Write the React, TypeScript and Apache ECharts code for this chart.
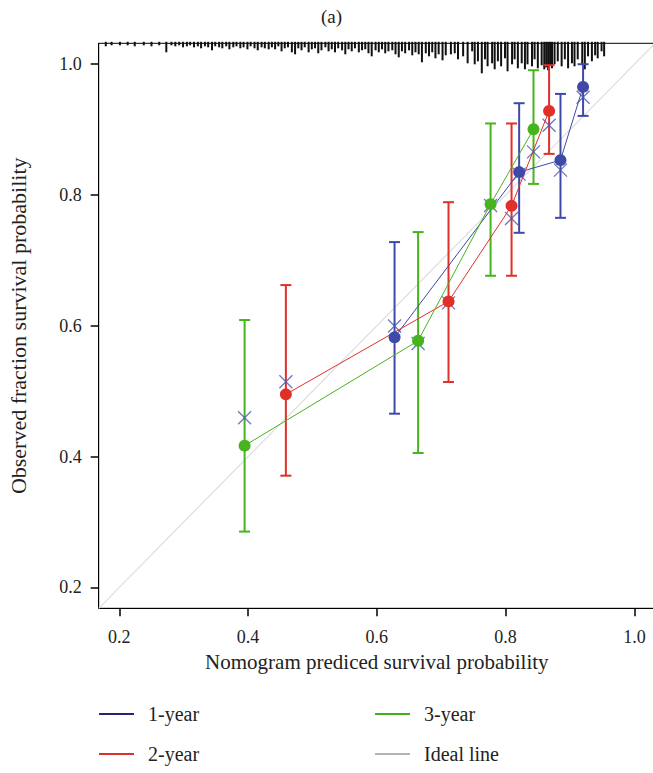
import React, { useEffect, useRef } from "react";
import * as echarts from "echarts";

const FONT = "'Liberation Serif', 'DejaVu Serif', serif";

const xTicks = [0.2, 0.4, 0.6, 0.8, 1.0];
const yTicks = [0.2, 0.4, 0.6, 0.8, 1.0];

// 1-year
const pred1 = [0.6275, 0.821, 0.8852, 0.9203];
const obs1 = [0.5823, 0.835, 0.8533, 0.9653];
const lo1 = [0.4656, 0.7422, 0.7651, 0.921];
const hi1 = [0.728, 0.9404, 0.9546, 1.0];
const corr1 = [0.5996, 0.832, 0.838, 0.9496];

// 2-year
const pred2 = [0.4587, 0.7113, 0.8092, 0.8675];
const obs2 = [0.4952, 0.6373, 0.7834, 0.9286];
const lo2 = [0.3708, 0.514, 0.6765, 0.8629];
const hi2 = [0.6623, 0.789, 0.9094, 0.9985];
const corr2 = [0.5145, 0.635, 0.7642, 0.9068];

// 3-year
const pred3 = [0.3946, 0.6641, 0.7766, 0.8433];
const obs3 = [0.4167, 0.5771, 0.786, 0.9006];
const lo3 = [0.2853, 0.4055, 0.6765, 0.817];
const hi3 = [0.6088, 0.7433, 0.9094, 0.9908];
const corr3 = [0.4595, 0.573, 0.784, 0.866];

// rug (distribution of predicted values) : position and relative frequency
const rugPred = [
  0.179, 0.188, 0.201, 0.213, 0.224, 0.238, 0.25, 0.262, 0.273, 0.281,
  0.287, 0.293, 0.299, 0.305, 0.31, 0.316, 0.322, 0.327, 0.333, 0.338,
  0.344, 0.349, 0.355, 0.36, 0.366, 0.371, 0.377, 0.382, 0.388, 0.393,
  0.399, 0.404, 0.41, 0.415, 0.421, 0.426, 0.432,
  0.437, 0.442, 0.447, 0.452, 0.457, 0.462, 0.468, 0.473, 0.478, 0.483,
  0.488, 0.494, 0.499, 0.504, 0.509, 0.514, 0.52, 0.525, 0.53, 0.535,
  0.54, 0.546, 0.551, 0.556, 0.561, 0.566, 0.572, 0.577, 0.582, 0.587,
  0.592, 0.598, 0.603, 0.608, 0.613, 0.618, 0.624, 0.629, 0.634, 0.639,
  0.644, 0.65, 0.655, 0.66, 0.665, 0.67, 0.676, 0.681, 0.686, 0.691,
  0.696, 0.702, 0.707,
  0.715, 0.721, 0.726, 0.734, 0.741, 0.748, 0.752, 0.757, 0.763, 0.768,
  0.772, 0.779, 0.783, 0.788, 0.793, 0.799, 0.803, 0.81, 0.814, 0.819,
  0.825, 0.83, 0.834, 0.841, 0.845, 0.85, 0.856, 0.86, 0.863, 0.866,
  0.869, 0.872, 0.876, 0.881, 0.887, 0.892, 0.897, 0.903, 0.907, 0.912,
  0.919, 0.923, 0.928, 0.934, 0.939, 0.943, 0.949, 0.953,
];
const rugCount = [
  3, 2, 2, 2, 3, 2, 3, 2, 9, 2,
  3, 2, 4, 3, 2, 4, 3, 5, 3, 4,
  7, 3, 4, 5, 3, 6, 4, 3, 5, 4,
  6, 3, 5, 7, 4, 5, 6,
  4, 6, 3, 8, 5, 4, 9, 11, 5, 7,
  4, 9, 6, 5, 10, 7, 4, 8, 6, 9,
  5, 7, 11, 6, 8, 5, 9, 7, 6, 10,
  13, 7, 9, 6, 10, 8, 7, 11, 14, 8,
  10, 7, 12, 9, 11, 19, 10, 13, 9, 15,
  11, 17, 12,
  11, 10, 16, 13, 20, 8, 21, 18, 30, 16,
  23, 20, 26, 18, 23, 15, 28, 21, 16, 25,
  20, 26, 21, 23, 16, 25, 22, 26, 24, 27,
  22, 25, 21, 18, 23, 16, 25, 20, 23, 16,
  21, 26, 13, 18, 12, 15, 8, 13,
];

const C1 = "#3f4aa8";
const C2 = "#e0302a";
const C3 = "#46b41c";
const CX = "#4a55b2";
const AX_MIN = 0.168;
const AX_MAX = 1.032;

function zip(a: number[], b: number[]) {
  return a.map((v, i) => [v, b[i]]);
}
function zip3(a: number[], b: number[], c: number[]) {
  return a.map((v, i) => [v, b[i], c[i]]);
}

function errBarSeries(name: string, color: string, data: number[][]) {
  return {
    type: "custom",
    name,
    data,
    encode: { x: 0, y: [1, 2] },
    z: 3,
    renderItem: (params: any, api: any) => {
      const x = api.value(0);
      const lo = api.coord([x, api.value(1)]);
      const hi = api.coord([x, api.value(2)]);
      const cap = 5.5;
      const style = { stroke: color, lineWidth: 2 };
      return {
        type: "group",
        children: [
          { type: "line", shape: { x1: lo[0], y1: lo[1], x2: hi[0], y2: hi[1] }, style },
          { type: "line", shape: { x1: lo[0] - cap, y1: lo[1], x2: lo[0] + cap, y2: lo[1] }, style },
          { type: "line", shape: { x1: hi[0] - cap, y1: hi[1], x2: hi[0] + cap, y2: hi[1] }, style },
        ],
      };
    },
  };
}

function lineSeries(name: string, color: string, data: number[][]) {
  return {
    type: "line",
    name,
    data,
    z: 5,
    symbol: "circle",
    symbolSize: 12,
    showSymbol: true,
    itemStyle: { color },
    lineStyle: { color, width: 1 },
  };
}

function crossSeries(name: string, data: number[][]) {
  return {
    type: "scatter",
    name,
    data,
    z: 4,
    symbol: "path://M0,0L10,10M10,0L0,10",
    symbolSize: 13,
    itemStyle: { color: "none", borderColor: CX, borderWidth: 1.3 },
  };
}

export default function App() {
  const ref = useRef<HTMLDivElement>(null);
  useEffect(() => {
    if (!ref.current) return;
    const chart = echarts.init(ref.current, undefined, { renderer: "svg" });
    const axisCommon = {
      type: "value",
      min: AX_MIN,
      max: AX_MAX,
      splitLine: { show: false },
      axisLine: { show: true, lineStyle: { color: "#000", width: 1 } },
      nameLocation: "middle",
    };
    const legendCommon = {
      top: 704,
      orient: "vertical",
      padding: 0,
      itemGap: 20,
      itemWidth: 35,
      itemHeight: 2,
      selectedMode: false,
      textStyle: { fontSize: 20, fontFamily: FONT, color: "#222", padding: [0, 0, 0, 9] },
    };
    chart.setOption({
      animation: false,
      backgroundColor: "#fff",
      title: {
        text: "(a)",
        left: 321,
        top: 7,
        padding: 0,
        textStyle: { fontSize: 19, fontWeight: "normal", fontFamily: FONT, color: "#222" },
      },
      grid: {
        left: 98.7,
        top: 43.3,
        right: -2,
        bottom: 164.7,
        show: true,
        borderColor: "#000",
        borderWidth: 1,
        outerBoundsMode: "none",
      },
      xAxis: {
        ...axisCommon,
        name: "Nomogram prediced survival probability",
        nameGap: 43,
        nameTextStyle: { fontSize: 21, fontFamily: FONT, color: "#222" },
        axisTick: { show: true, customValues: xTicks, length: 8, lineStyle: { color: "#000", width: 1.5 } },
        axisLabel: {
          customValues: xTicks,
          formatter: (v: number) => v.toFixed(1),
          fontSize: 18,
          fontFamily: FONT,
          color: "#222",
          margin: 20,
        },
      },
      yAxis: {
        ...axisCommon,
        name: "Observed fraction survival probability",
        nameGap: 69,
        nameTextStyle: { fontSize: 22, fontFamily: FONT, color: "#222" },
        axisTick: { show: true, customValues: yTicks, length: 8, lineStyle: { color: "#000", width: 1.5 } },
        axisLabel: {
          customValues: yTicks,
          formatter: (v: number) => v.toFixed(1),
          fontSize: 18,
          fontFamily: FONT,
          color: "#222",
          margin: 17,
        },
      },
      legend: [
        {
          ...legendCommon,
          left: 99,
          data: [
            { name: "1-year", icon: "rect", itemStyle: { color: "#27266c" } },
            { name: "2-year", icon: "rect", itemStyle: { color: "#d9302a" } },
          ],
        },
        {
          ...legendCommon,
          left: 375,
          data: [
            { name: "3-year", icon: "rect", itemStyle: { color: "#3fb01c" } },
            { name: "Ideal line", icon: "rect", itemStyle: { color: "#b3b3b3" } },
          ],
        },
      ],
      series: [
        {
          type: "line",
          name: "Ideal line",
          data: [
            [AX_MIN, AX_MIN],
            [AX_MAX, AX_MAX],
          ],
          symbol: "none",
          z: 1,
          lineStyle: { color: "#dedede", width: 1.2 },
          itemStyle: { color: "#dedede" },
        },
        {
          type: "custom",
          name: "rug",
          data: zip(rugPred, rugCount),
          z: 2,
          clip: false,
          renderItem: (params: any, api: any) => {
            const p = api.coord([api.value(0), AX_MAX]);
            const n = api.value(1);
            return {
              type: "line",
              shape: { x1: p[0], y1: p[1] - 1.5, x2: p[0], y2: p[1] + n },
              style: { stroke: "#111", lineWidth: 2 },
            };
          },
        },
        errBarSeries("1-year bars", C1, zip3(pred1, lo1, hi1)),
        errBarSeries("2-year bars", C2, zip3(pred2, lo2, hi2)),
        errBarSeries("3-year bars", C3, zip3(pred3, lo3, hi3)),
        crossSeries("1-year corrected", zip(pred1, corr1)),
        crossSeries("2-year corrected", zip(pred2, corr2)),
        crossSeries("3-year corrected", zip(pred3, corr3)),
        lineSeries("1-year", C1, zip(pred1, obs1)),
        lineSeries("2-year", C2, zip(pred2, obs2)),
        lineSeries("3-year", C3, zip(pred3, obs3)),
      ],
    });
    return () => chart.dispose();
  }, []);
  return (
    <div
      ref={ref}
      style={{ position: "fixed", left: 0, top: 0, width: 653, height: 773, background: "#fff" }}
    />
  );
}
